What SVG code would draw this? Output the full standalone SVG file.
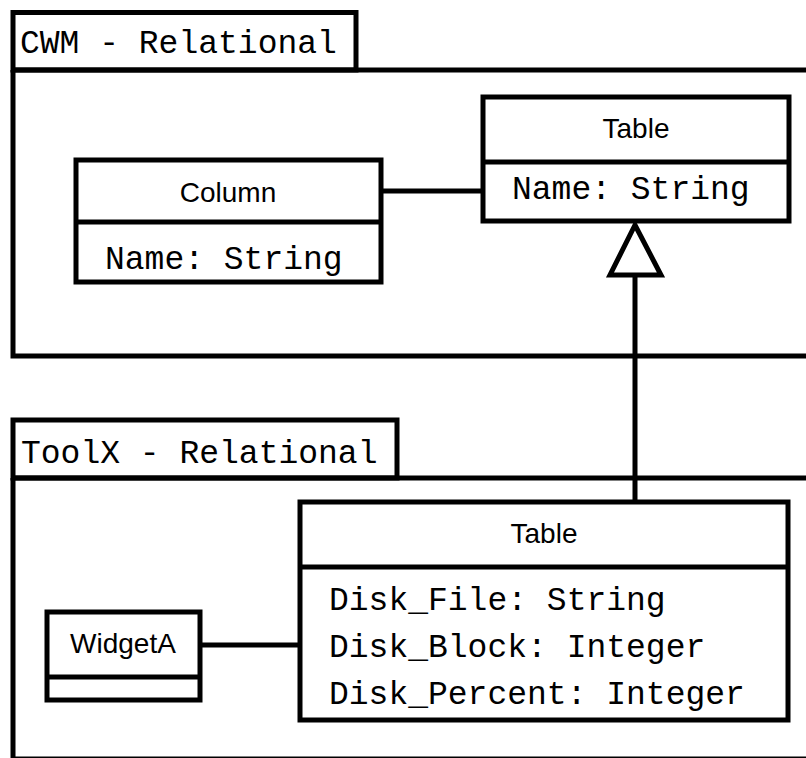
<svg xmlns="http://www.w3.org/2000/svg" width="806" height="758" viewBox="0 0 806 758">
<style>
.ln{fill:none;stroke:#000;stroke-width:5}
.bx{fill:#fff;stroke:#000;stroke-width:5}
.mono{font-family:"Liberation Mono","Courier New",monospace;font-size:33px;fill:#000}
.sans{font-family:"Liberation Sans",Arial,sans-serif;font-size:28px;fill:#000;text-anchor:middle}
</style>
<rect width="806" height="758" fill="#fff"/>
<g id="pkg-cwm">
<rect class="bx" x="13" y="12.5" width="343" height="57.5"/>
<path class="ln" d="M13 70 H820 M13 70 V356 H820"/>
<text class="mono" x="20" y="53">CWM - Relational</text>
</g>
<g id="pkg-toolx">
<rect class="bx" x="13" y="420" width="384" height="58"/>
<path class="ln" d="M13 478 H820 M13 478 V759 H820"/>
<text class="mono" x="21" y="463">ToolX - Relational</text>
</g>
<g id="connectors">
<path class="ln" d="M381 191 H483"/>
<path class="ln" d="M200 645 H300"/>
<path class="ln" d="M635 502 V275"/>
<polygon class="ln" points="635,225 610,275 661,275"/>
</g>
<g id="column">
<rect class="bx" x="76" y="160" width="305" height="122"/>
<path class="ln" d="M76 222 H381"/>
<text class="sans" x="228" y="202">Column</text>
<text class="mono" x="105" y="269">Name: String</text>
</g>
<g id="table-cwm">
<rect class="bx" x="483" y="97" width="306" height="124"/>
<path class="ln" d="M483 162 H789"/>
<text class="sans" x="636" y="138">Table</text>
<text class="mono" x="512" y="199">Name: String</text>
</g>
<g id="table-toolx">
<rect class="bx" x="300" y="502" width="488" height="218"/>
<path class="ln" d="M300 567 H788"/>
<text class="sans" x="544" y="543">Table</text>
<text class="mono" x="329" y="610">Disk_File: String</text>
<text class="mono" x="329" y="657">Disk_Block: Integer</text>
<text class="mono" x="329" y="704">Disk_Percent: Integer</text>
</g>
<g id="widgeta">
<rect class="bx" x="47" y="612" width="153" height="88"/>
<path class="ln" d="M47 677 H200"/>
<text class="sans" x="123" y="653">WidgetA</text>
</g>
</svg>
